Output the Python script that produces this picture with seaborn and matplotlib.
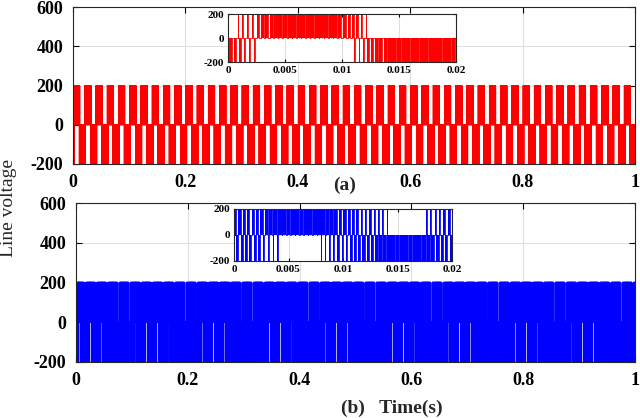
"""
Line voltage of two inverter cases, full 1 s run with a zoom on the first cycle.
"""

import matplotlib
matplotlib.use("Agg")
import matplotlib.pyplot as plt
import numpy as np
import seaborn as sns

VDC = 200          # pulse height (V)
F0 = 50            # fundamental (Hz)
N_CYCLES = 50      # 1 s of run

# fraction of each carrier slot (50 slots per cycle) at +VDC / -VDC,
# read off the zoomed insets of the reference
pos_a = [0, 0, 0.12, 0.2, 0.3, 0.4, 0.5, 0.6, 0.7, 0.78,
         0.84, 0.88, 0.9, 0.9, 0.9, 0.9, 0.9, 0.9, 0.9, 0.9,
         0.9, 0.88, 0.84, 0.78, 0.7, 0.6, 0.5, 0.4, 0.3, 0.2,
         0.12, 0, 0, 0, 0, 0, 0, 0, 0, 0,
         0, 0, 0, 0, 0, 0, 0, 0, 0, 0]
neg_a = [0.6, 0.5, 0.4, 0.3, 0.2, 0.12, 0, 0, 0, 0,
         0, 0, 0, 0, 0, 0, 0, 0, 0, 0,
         0, 0, 0, 0, 0, 0, 0, 0.12, 0.2, 0.3,
         0.4, 0.5, 0.6, 0.7, 0.78, 0.84, 0.88, 0.9, 0.9, 0.9,
         0.9, 0.9, 0.9, 0.9, 0.9, 0.9, 0.88, 0.84, 0.78, 0.7]

pos_b = [0.5, 0.5, 0.5, 0.5, 0.5, 0.55, 0.6, 0.75, 0.8, 0.85,
         0.85, 0.85, 0.85, 0.85, 0.85, 0.85, 0.85, 0.85, 0.85, 0.85,
         0.8, 0.75, 0.7, 0.65, 0.6, 0.55, 0.5, 0.5, 0.45, 0.4,
         0.35, 0.3, 0.25, 0.2, 0.15, 0.1, 0, 0, 0, 0,
         0, 0, 0, 0, 0.15, 0.2, 0.25, 0.3, 0.35, 0.4]
neg_b = [0.45, 0.45, 0.45, 0.45, 0.4, 0.35, 0.3, 0.2, 0.15, 0.1,
         0, 0, 0, 0, 0, 0, 0, 0, 0, 0.1,
         0.15, 0.2, 0.25, 0.3, 0.3, 0.35, 0.4, 0.4, 0.45, 0.5,
         0.55, 0.6, 0.65, 0.7, 0.75, 0.85, 0.85, 0.85, 0.85, 0.85,
         0.85, 0.85, 0.85, 0.85, 0.75, 0.7, 0.65, 0.6, 0.55, 0.5]

main_xticks = [0, 0.2, 0.4, 0.6, 0.8, 1]
main_yticks = [-200, 0, 200, 400, 600]
inset_xticks = [0, 0.005, 0.01, 0.015, 0.02]
inset_xlabels = ["0", "0.005", "0.01", "0.015", "0.02"]
inset_yticks = [-200, 0, 200]


def build_wave(pos, neg, n_cycles):
    """Turn per-slot duty lists into a step trace (x, y)."""
    slot = 1.0 / F0 / len(pos)
    pos = np.tile(pos, n_cycles)
    neg = np.tile(neg, n_cycles)
    xs, ys = [0.0], [0.0]
    for k, (p, n) in enumerate(zip(pos, neg)):
        t0 = k * slot
        pulses = []
        if p > 0 and n > 0:
            g = (1 - p - n) / 3
            pulses.append((g, g + p, VDC))
            pulses.append((2 * g + p, 2 * g + p + n, -VDC))
        elif p > 0:
            pulses.append(((1 - p) / 2, (1 + p) / 2, VDC))
        elif n > 0:
            pulses.append(((1 - n) / 2, (1 + n) / 2, -VDC))
        for s, e, lev in pulses:
            xs += [t0 + s * slot, t0 + s * slot, t0 + e * slot, t0 + e * slot]
            ys += [0, lev, lev, 0]
    xs.append(n_cycles / F0)
    ys.append(0.0)
    return np.array(xs), np.array(ys)


def draw_wave(ax, x, y, color, lw):
    ax.fill_between(x, y, 0, color=color, linewidth=0)
    sns.lineplot(x=x, y=y, ax=ax, color=color, linewidth=lw,
                 sort=False, estimator=None)


def style_axes(ax, fontsize, pad, length):
    ax.tick_params(direction="in", top=True, right=True, length=length,
                   width=0.8, pad=pad, labelsize=fontsize, colors="black")
    for lab in ax.get_xticklabels() + ax.get_yticklabels():
        lab.set_fontweight("bold")
    for sp in ax.spines.values():
        sp.set_visible(True)
        sp.set_color("#262626")
        sp.set_linewidth(0.8)
    ax.grid(True, color="#dcdcdc", linewidth=0.7)
    ax.set_axisbelow(True)
    ax.set_xlabel("")
    ax.set_ylabel("")


def main():
    sns.set_theme(style="ticks")
    plt.rcParams["font.family"] = ["Liberation Serif", "DejaVu Serif"]
    plt.rcParams["path.simplify"] = False

    fig = plt.figure(figsize=(6.4, 4.18), dpi=100)
    W, H = 640, 418

    def px_axes(left, top, right, bottom):
        return fig.add_axes([left / W, 1 - bottom / H, (right - left) / W, (bottom - top) / H])

    panels = [
        (pos_a, neg_a, "red", 0.6, (73, 7, 635, 164), (228, 14, 456, 62)),
        (pos_b, neg_b, "blue", 1.0, (76, 203, 635, 362), (234, 209, 452, 261)),
    ]

    for pos, neg, color, main_lw, main_box, inset_box in panels:
        ax = px_axes(*main_box)
        x, y = build_wave(pos, neg, N_CYCLES)
        draw_wave(ax, x, y, color, main_lw)
        ax.set_xlim(0, 1)
        ax.set_ylim(-200, 600)
        ax.set_xticks(main_xticks)
        ax.set_xticklabels([f"{v:g}" for v in main_xticks])
        ax.set_yticks(main_yticks)
        ax.set_yticklabels([str(v) for v in main_yticks])
        style_axes(ax, 13, 7, 4)

        ins = px_axes(*inset_box)
        ins.set_facecolor("white")
        xi, yi = build_wave(pos, neg, 1)
        draw_wave(ins, xi, yi, color, 0.6)
        ins.set_xlim(0, 0.02)
        ins.set_ylim(-200, 200)
        ins.set_xticks(inset_xticks)
        ins.set_xticklabels(inset_xlabels)
        ins.set_yticks(inset_yticks)
        ins.set_yticklabels([str(v) for v in inset_yticks])
        style_axes(ins, 8, 3, 2.5)

    fig.text(345 / W, 1 - 185 / H, "(a)", ha="center", va="center",
             fontsize=14, fontweight="bold")
    fig.text(392 / W, 1 - 408 / H, "(b)   Time(s)", ha="center", va="center",
             fontsize=14, fontweight="bold")
    fig.text(9 / W, 1 - 208 / H, "Line voltage", ha="center", va="center",
             rotation=90, fontsize=14)

    fig.savefig("out.png", dpi=100)
    print("Saved out.png")


if __name__ == "__main__":
    main()
